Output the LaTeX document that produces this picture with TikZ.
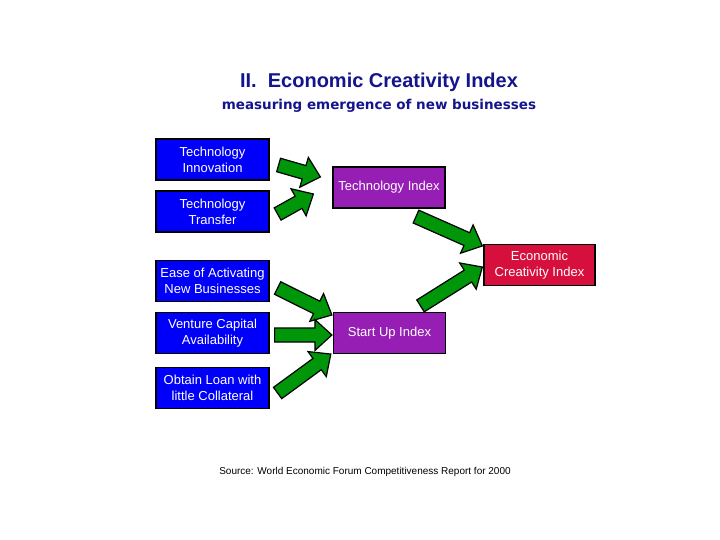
\documentclass[tikz,border=0pt]{standalone}
\usepackage{fontspec}
\setmainfont{Liberation Sans}
\newfontfamily\subfont{DejaVu Sans}
\usetikzlibrary{calc}
\definecolor{boxblue}{RGB}{0,0,250}
\definecolor{boxpurple}{RGB}{150,30,180}
\definecolor{boxred}{RGB}{215,15,60}
\definecolor{arrgreen}{RGB}{0,150,10}
\definecolor{titlenavy}{RGB}{20,20,140}
% fat green arrow from #1 to #2
\newcommand{\fatarrow}[2]{%
	\path let \p1=($(#2)-(#1)$) in \pgfextra{%
		\pgfmathsetmacro\arrang{atan2(\y1,\x1)}\global\let\arrang\arrang
		\pgfmathsetmacro\arrlen{veclen(\x1,\y1)}\global\let\arrlen\arrlen};
	\draw[arrowbody, shift={(#1)}, rotate=\arrang] (0,-7) -- (\arrlen-17,-7) -- (\arrlen-17,-15.5)
		-- (\arrlen,0) -- (\arrlen-17,15.5) -- (\arrlen-17,7) -- (0,7) -- cycle;}
\begin{document}
\begin{tikzpicture}[x=1pt, y=-1pt,
	box/.style={draw=black, line width=1.2pt, minimum width=113, minimum height=41, inner sep=2pt,
		align=center, text=white, font=\fontsize{13}{16}\selectfont},
	inbox/.style={box, fill=boxblue},
	idxbox/.style={box, fill=boxpurple},
	arrowbody/.style={draw=black, fill=arrgreen, line width=1.2pt}]
	\useasboundingbox (0,0) rectangle (720,540);
	% tieu de
	\node[anchor=base, text=titlenavy, font=\fontsize{20}{24}\selectfont\bfseries] (title) at (379,88) {II.\ \ Economic Creativity Index};
	\node[anchor=base, text=titlenavy, font=\subfont\fontsize{13.5}{16}\selectfont\bfseries] (subtitle) at (379,110) {measuring emergence of new businesses};
	% cac hop
	\node[inbox] (tinn) at (212.5,159.5) {Technology\\Innovation};
	\node[inbox] (ttra) at (212.5,211.5) {Technology\\Transfer};
	\node[inbox] (ease) at (212.5,281) {Ease of Activating\\New Businesses};
	\node[inbox] (vent) at (212.5,333) {Venture Capital\\Availability};
	\node[inbox] (loan) at (212.5,388) {Obtain Loan with\\little Collateral};
	\node[idxbox, minimum width=112] (tidx) at (389,187.5) {Technology Index};
	\node[idxbox, minimum width=112] (sidx) at (389.5,333) {Start Up Index};
	\node[box, fill=boxred, minimum width=111] (eci) at (539.5,265) {Economic\\Creativity Index};
	\node[anchor=base, font=\fontsize{10}{12}\selectfont] (source) at (365,474) {Source: World Economic Forum Competitiveness Report for 2000};
	% dau mui ten
	\coordinate (a1s) at ([shift={(9,5.5)}]tinn.east);
	\coordinate (a1e) at ([shift={(-12,-10.5)}]tidx.west);
	\coordinate (a2s) at ([shift={(8,2.5)}]ttra.east);
	\coordinate (a2e) at ([shift={(-19,6.5)}]tidx.west);
	\coordinate (a3s) at ([shift={(27,8)}]tidx.south);
	\coordinate (a3e) at ([shift={(-1,-19)}]eci.west);
	\coordinate (a4s) at ([shift={(31,-6)}]sidx.north);
	\coordinate (a4e) at ([shift={(-1,2)}]eci.west);
	\coordinate (a5s) at ([shift={(8,7)}]ease.east);
	\coordinate (a5e) at ([shift={(-1,-18)}]sidx.west);
	\coordinate (a6s) at ([shift={(5,2)}]vent.east);
	\coordinate (a6e) at ([shift={(-1,2)}]sidx.west);
	\coordinate (a7s) at ([shift={(8,5)}]loan.east);
	\coordinate (a7e) at ([shift={(-2,21)}]sidx.west);
	\fatarrow{a1s}{a1e}
	\fatarrow{a2s}{a2e}
	\fatarrow{a3s}{a3e}
	\fatarrow{a4s}{a4e}
	\fatarrow{a5s}{a5e}
	\fatarrow{a6s}{a6e}
	\fatarrow{a7s}{a7e}
\end{tikzpicture}
\end{document}
